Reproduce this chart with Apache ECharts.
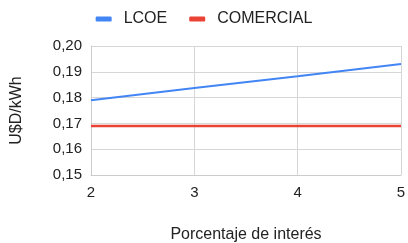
<!DOCTYPE html>
<html>
<head>
<meta charset="utf-8">
<script src="https://cdn.jsdelivr.net/npm/echarts@6/dist/echarts.min.js"></script>
<style>
  html, body { margin: 0; padding: 0; background: #fff; }
  #chart { width: 408px; height: 243px; }
</style>
</head>
<body>
<div id="chart"></div>
<script>
// datos
var tasas = [2, 3, 4, 5];
var lcoe = [0.179, 0.1837, 0.1883, 0.193];
var comercial = [0.169, 0.169, 0.169, 0.169];
var yTicks = [0.15, 0.16, 0.17, 0.18, 0.19, 0.20];

var font = 'Arial, "Liberation Sans", sans-serif';
var myChart = echarts.init(document.getElementById('chart'));

function pares(xs, ys) {
  return xs.map(function (x, i) { return [x, ys[i]]; });
}

myChart.setOption({
  animation: false,
  textStyle: { fontFamily: font },
  legend: {
    top: 6,
    left: 'center',
    icon: 'roundRect',
    itemWidth: 16,
    itemHeight: 5,
    itemGap: 22,
    textStyle: { fontSize: 16, color: '#222', fontFamily: font, padding: [0, 0, 0, 7] },
    data: ['LCOE', 'COMERCIAL']
  },
  grid: { left: 91, right: 7, top: 46, bottom: 68, containLabel: false, outerBoundsMode: 'none' },
  xAxis: {
    type: 'value',
    min: 2, max: 5, interval: 1,
    name: 'Porcentaje de interés',
    nameLocation: 'middle',
    nameGap: 52,
    nameTextStyle: { fontSize: 16, color: '#222', fontFamily: font },
    axisLine: { show: true, lineStyle: { color: '#ccc' } },
    axisTick: { show: false },
    axisLabel: { fontSize: 15, color: '#222', margin: 10, fontFamily: font },
    splitLine: { show: true, lineStyle: { color: '#d6d6d6', width: 1 } }
  },
  yAxis: {
    type: 'value',
    min: yTicks[0], max: yTicks[yTicks.length - 1], interval: 0.01,
    name: 'U$D/kWh',
    nameLocation: 'middle',
    nameGap: 66,
    nameTextStyle: { fontSize: 16, color: '#222', fontFamily: font },
    axisLine: { show: true, lineStyle: { color: '#ccc' } },
    axisTick: { show: false },
    axisLabel: {
      fontSize: 15, color: '#222', margin: 9, fontFamily: font,
      formatter: function (v) { return v.toFixed(2).replace('.', ','); }
    },
    splitLine: { show: true, lineStyle: { color: '#d6d6d6', width: 1 } }
  },
  series: [
    {
      name: 'LCOE', type: 'line', data: pares(tasas, lcoe),
      showSymbol: false, symbol: 'none',
      itemStyle: { color: '#4285f4' },
      lineStyle: { color: '#4285f4', width: 2 }
    },
    {
      name: 'COMERCIAL', type: 'line', data: pares(tasas, comercial),
      showSymbol: false, symbol: 'none',
      itemStyle: { color: '#ea4335' },
      lineStyle: { color: '#ea4335', width: 2.5 }
    }
  ]
});
</script>
</body>
</html>
